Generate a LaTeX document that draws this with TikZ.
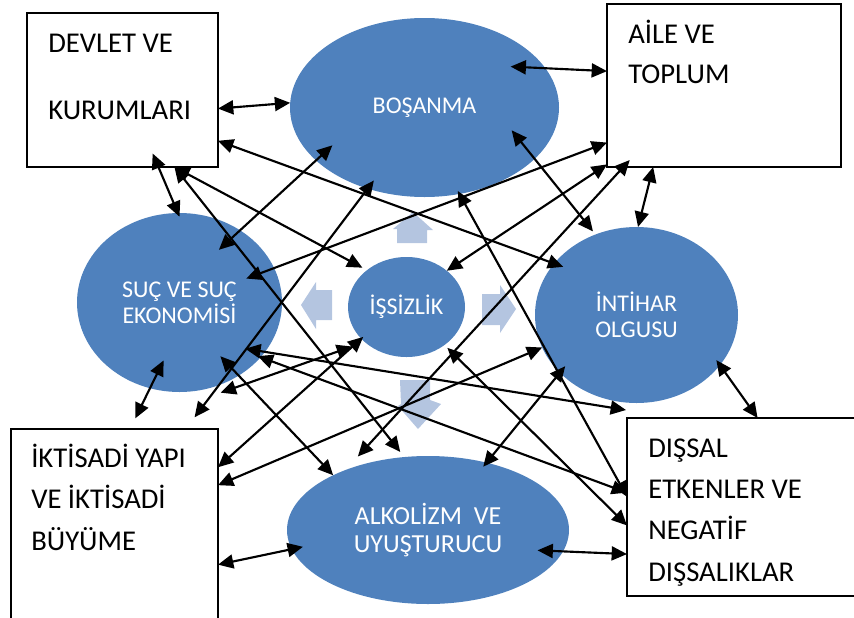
\documentclass[tikz,border=0pt]{standalone}
\usepackage{fontspec}
\setmainfont{Carlito}
\usetikzlibrary{arrows.meta,shapes.geometric,calc}
\definecolor{ellblue}{RGB}{79,129,189}
\definecolor{lightarr}{RGB}{180,197,224}
\begin{document}
\begin{tikzpicture}[x=0.75pt,y=-0.75pt,
  box/.style={draw=black, line width=1.1pt, fill=white, rectangle, inner sep=0pt, outer sep=0pt},
  ell/.style={ellipse, fill=ellblue, inner sep=0pt, outer sep=0pt, text=white, align=center,
              font=\fontsize{18}{19.5}\selectfont},
  boxtxt/.style={anchor=base west, inner sep=0pt, font=\fontsize{21.5}{24}\selectfont},
  blk/.style={fill=lightarr, draw=none},
  dar/.style={line width=1.6pt, {Triangle[length=11.5pt,width=10.5pt]}-{Triangle[length=11.5pt,width=10.5pt]}},
]
\useasboundingbox (0,0) rectangle (854,618);
\clip (0,0) rectangle (854,618);

% light block arrows around the centre
\fill[blk] (397,243) -- (427,243) -- (427,230) -- (433,230) -- (413,212) -- (393,229) -- (397,229) -- cycle;
\fill[blk] (301,305) -- (316,282) -- (316,290) -- (332,290) -- (332,320) -- (316,320) -- (316,329) -- cycle;
\fill[blk] (482,294) -- (500,294) -- (500,285) -- (516,309) -- (500,333) -- (500,325) -- (482,325) -- cycle;
\fill[blk] (400,380) -- (430,380) -- (430,400) -- (441,404) -- (418,429) -- (398,406) -- (401,404) -- cycle;

% ellipses
\node[ell, minimum width=201.75pt, minimum height=134.25pt] (bos) at (424.5,107.5) {BOŞANMA};
\node[ell, minimum width=153.75pt, minimum height=134.25pt] (suc) at (179.5,302.5) {SUÇ VE SUÇ\\EKONOMİSİ};
\node[ell, minimum width=87.75pt, minimum height=75pt] (iss) at (406.5,307) {İŞSİZLİK};
\node[ell, minimum width=152.25pt, minimum height=132pt] (int) at (636.5,315) {İNTİHAR\\OLGUSU};
\node[ell, minimum width=211.5pt, minimum height=111pt, font=\fontsize{19.5}{21}\selectfont] (alk) at (428,530) {ALKOLİZM\ \ VE\\UYUŞTURUCU};

% boxes
\node[box, minimum width=143.25pt, minimum height=115.5pt] (dev) at (122.5,90) {};
\node[box, minimum width=175.5pt, minimum height=122.25pt] (aile) at (724,85.5) {};
\node[box, minimum width=155.25pt, minimum height=147pt] (ikt) at (114.5,527) {};
\node[box, minimum width=174.75pt, minimum height=133.5pt] (dis) at (743.5,507) {};

% box texts
\node[boxtxt] (dev1) at (48,52) {DEVLET VE};
\node[boxtxt] (dev2) at (48,119) {KURUMLARI};
\node[boxtxt] (aile1) at (628,43) {AİLE VE};
\node[boxtxt] (aile2) at (628,83) {TOPLUM};
\node[boxtxt] (ikt1) at (31,467) {İKTİSADİ YAPI};
\node[boxtxt] (ikt2) at (31,508) {VE İKTİSADİ};
\node[boxtxt] (ikt3) at (31,550) {BÜYÜME};
\node[boxtxt] (dis1) at (648,457) {DIŞSAL};
\node[boxtxt] (dis2) at (648,498) {ETKENLER VE};
\node[boxtxt] (dis3) at (648,539) {NEGATİF};
\node[boxtxt] (dis4) at (648,581) {DIŞSALIKLAR};

% free ends
\coordinate (discor) at ($(dis.north west)+(-1,-8)$);
\coordinate (succor) at ($(suc.south)+(41.2,0.7)$);

% connectors
\draw[dar] (dev.-11.9) -- (bos.178.2);
\draw[dar, shorten >=-7.2pt] (dev.-28.7) -- (int.148.1);
\draw[dar, shorten <=-11pt, shorten >=-3pt] (dev.-65.6) -- (suc.91.9);
\draw[dar, shorten >=3.9pt] (dev.-56.7) -- (iss.137.5);
\draw[dar, shorten >=4.9pt] (dev.-56.2) -- (alk.108.6);
\draw[dar, shorten <=-21.6pt, shorten >=-16.7pt] (suc.50.1) -- (bos.-154.7);
\draw[dar, shorten <=-22.3pt] (suc.20.8) -- (aile.-154.7);
\draw[dar, shorten <=11pt, shorten >=-7.65pt] (ikt.54.7) -- (bos.-125.9);
\draw[dar, shorten <=-26.1pt] (bos.18.5) -- (aile.173.8);
\draw[dar, shorten <=-27.5pt, shorten >=3pt] (bos.-25.8) -- (int.117.5);
\draw[dar, shorten <=-2.5pt] (bos.-68.2) -- (dis.175.3);
\draw[dar] (aile.-131.1) -- (int.89.7);
\draw[dar] (aile.-146.4) -- (iss.42.4);
\draw[dar, shorten <=-7.1pt, shorten >=13.8pt] (aile.-141.8) -- (alk.144.4);
\draw[dar, shorten <=3pt] (iss.-45.9) -- (dis.-171.6);
\draw[dar, shorten <=-15pt] (suc.-30.3) -- (discor);
\draw[dar, shorten <=-2.3pt] (suc.-34.7) -- (dis.173.4);
\draw[dar, shorten <=-23.2pt, shorten >=8.85pt] (suc.-109.5) -- (ikt.81.0);
\draw[dar, shorten <=-20pt] (suc.-51.0) -- (alk.150.7);
\draw[dar, shorten >=-2pt] (ikt.30.4) -- (iss.-145.3);
\draw[dar, shorten >=10.1pt] (succor) -- (iss.-140.1);
\draw[dar] (ikt.22.9) -- (int.-161.0);
\draw[dar, shorten <=-3.9pt, shorten >=-6.3pt] (alk.49.0) -- (int.-143.6);
\draw[dar, shorten <=-4.6pt] (int.-31.6) -- (dis.81.1);
\draw[dar, shorten <=-19.1pt] (alk.-9.8) -- (dis.-158.6);
\draw[dar, shorten >=-8.5pt] (ikt.-20.3) -- (alk.-172.9);
\end{tikzpicture}
\end{document}
